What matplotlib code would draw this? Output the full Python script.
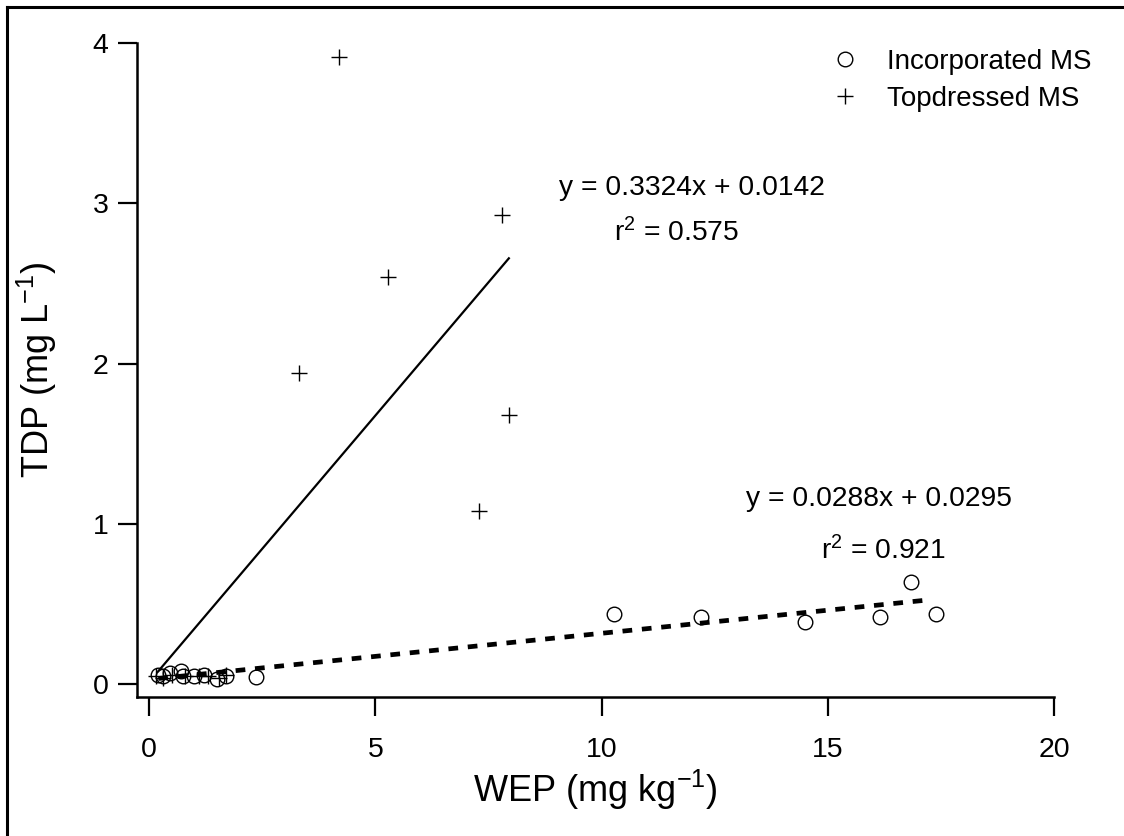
import matplotlib

matplotlib.use("Agg")
import matplotlib.pyplot as plt
from matplotlib.lines import Line2D
import numpy as np

# Incorporated MS (open circles)
inc_wep = [0.2, 0.3, 0.45, 0.7, 0.75, 1.0, 1.2, 1.5, 1.7, 2.35, 10.27, 12.2, 14.5, 16.15, 16.85, 17.4]
inc_tdp = [0.06, 0.05, 0.07, 0.08, 0.05, 0.05, 0.06, 0.03, 0.05, 0.045, 0.44, 0.42, 0.39, 0.42, 0.64, 0.44]

# Topdressed MS (plus signs)
top_wep = [0.15, 0.3, 0.5, 0.8, 1.1, 1.3, 1.55, 1.7, 3.3, 4.2, 5.27, 7.3, 7.79, 7.96]
top_tdp = [0.05, 0.04, 0.06, 0.05, 0.05, 0.05, 0.04, 0.06, 1.94, 3.91, 2.54, 1.08, 2.93, 1.68]

# regression fits as reported on the chart
top_fit = (0.3324, 0.0142, 0.575)
inc_fit = (0.0288, 0.0295, 0.921)
top_fit_range = (0.2, 7.95)
inc_fit_range = (0.2, 17.2)

plt.rcParams["font.family"] = ["Liberation Sans", "DejaVu Sans"]
plt.rcParams["mathtext.default"] = "regular"
plt.rcParams["lines.scale_dashes"] = False

fig = plt.figure(figsize=(11.24, 8.36), dpi=100)
ax = fig.add_axes([137 / 1124, 1 - 697 / 836, (1054 - 137) / 1124, (697 - 43) / 836])

ax.plot(inc_wep, inc_tdp, linestyle="none", marker="o", markersize=10.5,
        markerfacecolor="none", markeredgecolor="black", markeredgewidth=1.0,
        label="Incorporated MS")
ax.plot(top_wep, top_tdp, linestyle="none", marker="+", markersize=11,
        color="black", markeredgewidth=1.0, label="Topdressed MS")

xs = np.array(top_fit_range)
ax.plot(xs, top_fit[0] * xs + top_fit[1], color="black", linewidth=1.6)
xs = np.array(inc_fit_range)
ax.plot(xs, inc_fit[0] * xs + inc_fit[1], color="black", linewidth=3.4,
        dashes=(7, 7))

ax.set_xlim(-0.27, 20)
ax.set_ylim(-0.08, 4)
ax.set_xticks([0, 5, 10, 15, 20])
ax.set_yticks([0, 1, 2, 3, 4])
for side in ("top", "right"):
    ax.spines[side].set_visible(False)
for side in ("left", "bottom"):
    ax.spines[side].set_linewidth(1.8)
ax.tick_params(direction="out", length=13.5, width=1.6, labelsize=20.5)
ax.tick_params(axis="x", pad=15)
ax.tick_params(axis="y", pad=7)

ax.set_xlabel("WEP (mg kg$^{-1}$)", fontsize=26, labelpad=4)
ax.set_ylabel("TDP (mg L$^{-1}$)", fontsize=26, labelpad=24)

ax.text(9.05, 3.05, f"y = {top_fit[0]:.4f}x + {top_fit[1]:.4f}", fontsize=20.3,
        ha="left", va="baseline")
ax.text(11.64, 2.76, f"r$^2$ = {top_fit[2]:.3f}", fontsize=20.3, ha="center", va="baseline")
ax.text(13.19, 1.11, f"y = {inc_fit[0]:.4f}x + {inc_fit[1]:.4f}", fontsize=20.3,
        ha="left", va="baseline")
ax.text(16.24, 0.78, f"r$^2$ = {inc_fit[2]:.3f}", fontsize=20.3, ha="center", va="baseline")

ax.legend(loc="upper left", bbox_to_anchor=(831 / 1124, 1 - 49 / 836),
          bbox_transform=fig.transFigure, frameon=False, fontsize=20,
          handlelength=1.0, handletextpad=1.0, labelspacing=0.4,
          borderpad=0, borderaxespad=0)

# thin frame around the figure (left and top edges)
fig.add_artist(Line2D([7 / 1124, 7 / 1124], [0, 1 - 7 / 836], transform=fig.transFigure,
                      color="black", linewidth=2.2))
fig.add_artist(Line2D([7 / 1124, 1], [1 - 7 / 836, 1 - 7 / 836], transform=fig.transFigure,
                      color="black", linewidth=2.2))

fig.savefig("out.png", dpi=100)
plt.close(fig)
